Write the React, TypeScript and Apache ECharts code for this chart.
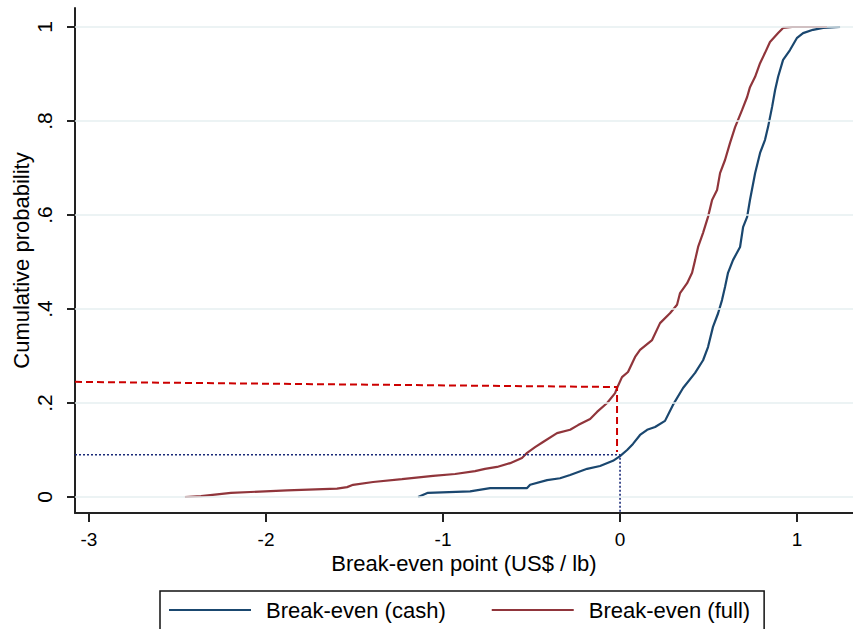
import { useEffect, useRef } from "react";
import * as echarts from "echarts";

const FONT = '"Liberation Sans", Arial, Helvetica, sans-serif';

const seriesNames = ["Break-even (cash)", "Break-even (full)"];

const xTicks = [-3, -2, -1, 0, 1];
const yTicks = [0, 0.2, 0.4, 0.6, 0.8, 1];

// Empirical CDF of the cash break-even point (US$ / lb)
const cashX = [
  -1.141, -1.085, -0.847, -0.734, -0.525, -0.508, -0.412, -0.339, -0.282, -0.186,
  -0.113, -0.04, 0, 0.04, 0.073, 0.113, 0.153, 0.198, 0.254, 0.299,
  0.356, 0.424, 0.469, 0.497, 0.525, 0.554, 0.576, 0.593, 0.61, 0.638,
  0.678, 0.695, 0.718, 0.734, 0.763, 0.791, 0.819, 0.836, 0.859, 0.876,
  0.893, 0.921, 0.96, 1.0, 1.034, 1.09, 1.147, 1.243,
];
const cashP = [
  0, 0.009, 0.012, 0.019, 0.019, 0.026, 0.036, 0.04, 0.047, 0.06,
  0.066, 0.077, 0.087, 0.1, 0.113, 0.132, 0.143, 0.149, 0.162, 0.196,
  0.232, 0.264, 0.291, 0.319, 0.362, 0.391, 0.419, 0.447, 0.477, 0.504,
  0.532, 0.574, 0.596, 0.632, 0.689, 0.732, 0.76, 0.787, 0.83, 0.866,
  0.894, 0.93, 0.951, 0.977, 0.987, 0.994, 0.998, 1.0,
];

// Empirical CDF of the full break-even point (US$ / lb)
const fullX = [
  -2.458, -2.367, -2.198, -1.881, -1.599, -1.542, -1.508, -1.395, -1.232, -1.056,
  -0.932, -0.819, -0.763, -0.695, -0.621, -0.554, -0.525, -0.48, -0.435, -0.356,
  -0.282, -0.237, -0.169, -0.13, -0.073, -0.028, -0.017, 0.011, 0.045, 0.085,
  0.113, 0.181, 0.226, 0.282, 0.322, 0.339, 0.379, 0.407, 0.424, 0.441,
  0.469, 0.497, 0.52, 0.548, 0.565, 0.593, 0.621, 0.65, 0.689, 0.718,
  0.734, 0.763, 0.791, 0.819, 0.847, 0.893, 0.921, 0.972, 1.169,
];
const fullP = [
  0, 0.002, 0.009, 0.014, 0.018, 0.021, 0.026, 0.032, 0.038, 0.045,
  0.049, 0.055, 0.06, 0.064, 0.072, 0.083, 0.094, 0.106, 0.117, 0.136,
  0.143, 0.153, 0.166, 0.181, 0.2, 0.221, 0.232, 0.255, 0.266, 0.298,
  0.313, 0.334, 0.37, 0.391, 0.409, 0.434, 0.455, 0.477, 0.504, 0.532,
  0.562, 0.596, 0.632, 0.653, 0.689, 0.717, 0.753, 0.787, 0.823, 0.851,
  0.872, 0.894, 0.923, 0.945, 0.968, 0.987, 0.998, 1.0, 1.0,
];

// Guide lines marking the probability of a break-even point below zero
const fullGuideX = [-3.079, -0.017, -0.017];
const fullGuideP = [0.245, 0.234, 0.096];
const cashGuideX = [-3.079, 0, 0];
const cashGuideP = [0.09, 0.09, -0.034];

const CASH_COLOR = "#1a476f";
const FULL_COLOR = "#90353b";

const zip = (xs: number[], ys: number[]) => xs.map((x, i) => [x, ys[i]]);

const fmtProb = (v: number) => {
  if (v === 0) return "0";
  if (v === 1) return "1";
  return String(Math.round(v * 10) / 10).replace(/^0/, "");
};

export default function App() {
  const ref = useRef<HTMLDivElement>(null);

  useEffect(() => {
    if (!ref.current) return;
    const chart = echarts.init(ref.current, undefined, { renderer: "svg" });

    chart.setOption({
      animation: false,
      backgroundColor: "#ffffff",
      textStyle: { fontFamily: FONT },
      grid: {
        left: 75,
        right: 0,
        top: 8,
        bottom: 116,
        containLabel: false,
        outerBoundsMode: "none",
      },
      xAxis: {
        type: "value",
        min: -3.079,
        max: 1.316,
        name: "Break-even point (US$ / lb)",
        nameLocation: "middle",
        nameGap: 39,
        nameMoveOverlap: false,
        nameTextStyle: { fontSize: 22, color: "#000", fontFamily: FONT },
        axisLine: { show: true, onZero: false, lineStyle: { color: "#222", width: 2 } },
        axisTick: {
          show: true,
          length: 9,
          customValues: xTicks,
          lineStyle: { color: "#222", width: 2 },
        },
        axisLabel: {
          customValues: xTicks,
          fontSize: 19,
          color: "#000",
          margin: 17,
          fontFamily: FONT,
          formatter: (v: number) => String(v),
        },
        splitLine: { show: false },
      },
      yAxis: {
        type: "value",
        min: -0.034,
        max: 1.0404,
        name: "Cumulative probability",
        nameLocation: "middle",
        nameGap: 43,
        nameMoveOverlap: false,
        nameTextStyle: { fontSize: 22, color: "#000", fontFamily: FONT },
        axisLine: { show: true, onZero: false, lineStyle: { color: "#222", width: 2 } },
        axisTick: {
          show: true,
          length: 8,
          customValues: yTicks,
          lineStyle: { color: "#222", width: 2 },
        },
        axisLabel: {
          customValues: yTicks,
          rotate: 90,
          fontSize: 21,
          color: "#000",
          margin: 20,
          fontFamily: FONT,
          formatter: fmtProb,
        },
        splitLine: { show: false },
      },
      legend: {
        data: seriesNames,
        left: 160,
        top: 591,
        icon: "rect",
        itemWidth: 82,
        itemHeight: 2,
        itemGap: 46,
        borderColor: "#111",
        borderWidth: 1.5,
        padding: [8, 14, 40, 9],
        textStyle: {
          fontSize: 22,
          color: "#000",
          fontFamily: FONT,
          padding: [0, 0, 0, 10],
        },
      },
      series: [
        {
          name: "gridlines",
          type: "line",
          data: [],
          z: 1,
          silent: true,
          markLine: {
            silent: true,
            symbol: ["none", "none"],
            label: { show: false },
            lineStyle: { color: "#e6eff1", type: "solid", width: 1.5 },
            data: yTicks.map((v) => ({ yAxis: v })),
          },
        },
        {
          name: seriesNames[0],
          type: "line",
          data: zip(cashX, cashP),
          showSymbol: false,
          symbol: "none",
          z: 3,
          color: CASH_COLOR,
          lineStyle: { color: CASH_COLOR, width: 2.2 },
        },
        {
          name: seriesNames[1],
          type: "line",
          data: zip(fullX, fullP),
          showSymbol: false,
          symbol: "none",
          z: 3,
          color: FULL_COLOR,
          lineStyle: { color: FULL_COLOR, width: 2.2 },
        },
        {
          name: "full guide",
          type: "line",
          data: zip(fullGuideX, fullGuideP),
          showSymbol: false,
          symbol: "none",
          silent: true,
          z: 4,
          lineStyle: { color: "#cc0000", width: 2, type: [7, 4] },
        },
        {
          name: "cash guide",
          type: "line",
          data: zip(cashGuideX, cashGuideP),
          showSymbol: false,
          symbol: "none",
          silent: true,
          z: 4,
          lineStyle: { color: "#1a2a78", width: 1.6, type: [2, 2] },
        },
      ],
    });

    return () => chart.dispose();
  }, []);

  return (
    <div
      ref={ref}
      style={{ position: "absolute", left: 0, top: 0, width: 853, height: 629 }}
    />
  );
}
